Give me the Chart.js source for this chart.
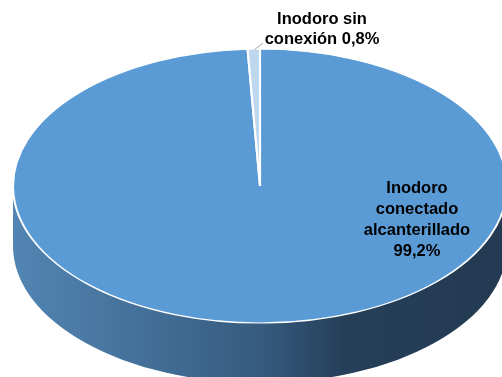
<!DOCTYPE html>
<html>
<head>
<meta charset="utf-8">
<script src="https://cdn.jsdelivr.net/npm/chart.js@4/dist/chart.umd.min.js"></script>
<style>
    html, body { margin: 0; padding: 0; background: #fff; overflow: hidden; }
    canvas { display: block; }
</style>
</head>
<body>
<canvas id="pieChart" width="502" height="377"></canvas>
<script>
const categories = ['Inodoro conectado alcanterillado', 'Inodoro sin conexión'];
const shares = [99.2, 0.8];
const sliceColors = ['#5B9BD5', '#BDD7EE'];
const bigLabel = ['Inodoro', 'conectado', 'alcanterillado', '99,2%'];
const smallLabel = ['Inodoro sin', 'conexión 0,8%'];

// tilted disc: where the top ellipse sits on the page
const centerX = 260, centerY = 186, radiusX = 247, radiusY = 137, depth = 60;

const tiltPlugin = {
    id: 'tilt',
    beforeDatasetsDraw(chart) {
        const ctx = chart.ctx;
        const arc = chart.getDatasetMeta(0).data[0];

        // side wall of the disc
        const wall = ctx.createLinearGradient(centerX - radiusX, 0, centerX + radiusX, 0);
        wall.addColorStop(0, '#5285B3');
        wall.addColorStop(0.25, '#44719A');
        wall.addColorStop(0.5, '#365B7F');
        wall.addColorStop(0.67, '#263F59');
        wall.addColorStop(1, '#233A52');
        ctx.save();
        ctx.beginPath();
        ctx.ellipse(centerX, centerY + depth, radiusX, radiusY, 0, 0, Math.PI);
        ctx.lineTo(centerX - radiusX, centerY + 12);
        ctx.lineTo(centerX + radiusX, centerY + 12);
        ctx.closePath();
        ctx.fillStyle = wall;
        ctx.fill();
        ctx.restore();

        // squash the round pie into the top ellipse
        ctx.save();
        ctx.translate(centerX, centerY);
        ctx.scale(radiusX / arc.outerRadius, radiusY / arc.outerRadius);
        ctx.translate(-arc.x, -arc.y);
    },
    afterDatasetsDraw(chart) {
        const ctx = chart.ctx;
        ctx.restore();

        ctx.strokeStyle = '#A6A6A6';
        ctx.lineWidth = 1;
        ctx.beginPath();
        ctx.moveTo(254, 50);
        ctx.lineTo(263, 43);
        ctx.stroke();

        ctx.fillStyle = '#000';
        ctx.font = 'bold 16.5px "Liberation Sans", Arial, sans-serif';
        ctx.textAlign = 'center';
        ctx.textBaseline = 'middle';
        smallLabel.forEach((line, i) => ctx.fillText(line, 322, 19 + i * 20.5));
        bigLabel.forEach((line, i) => ctx.fillText(line, 417, 188 + i * 21));
    }
};

new Chart(document.getElementById('pieChart').getContext('2d'), {
    type: 'pie',
    data: {
        labels: categories,
        datasets: [{
            data: shares,
            backgroundColor: sliceColors,
            borderColor: '#FFFFFF',
            borderWidth: 1.6,
            clip: false
        }]
    },
    options: {
        responsive: false,
        animation: false,
        plugins: {
            legend: { display: false },
            tooltip: { enabled: false }
        }
    },
    plugins: [tiltPlugin]
});
</script>
</body>
</html>
